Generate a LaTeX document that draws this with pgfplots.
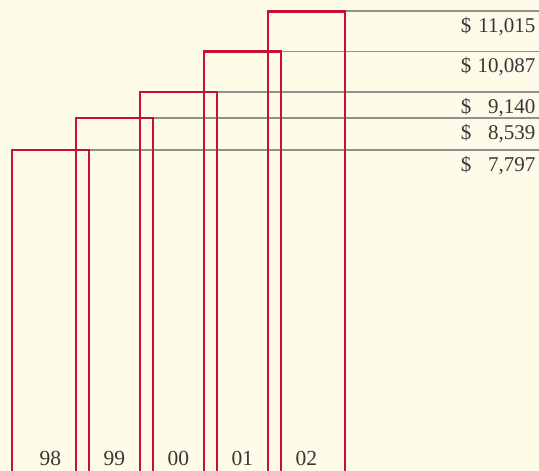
\documentclass[border=0pt]{standalone}
\usepackage{fontspec}
\setmainfont{Liberation Serif}
\usepackage{pgfplots}
\usepackage{pgfplotstable}
\pgfplotsset{compat=1.18}
\definecolor{bg}{RGB}{255,251,233}
\definecolor{barred}{RGB}{202,16,48}
\definecolor{rulegray}{RGB}{145,145,145}
\definecolor{txt}{RGB}{55,55,55}
\pgfplotstableread{
x val
0 7797
1 8539
2 9140
3 10087
4 11015
}\revtable
\begin{document}
\begin{tikzpicture}
\path[use as bounding box] (0,0) rectangle (539pt,471pt);
\clip (0,0) rectangle (539pt,471pt);
\begin{axis}[
  at={(0pt,-15.8pt)}, anchor=south west,
  scale only axis, width=539pt, height=486.8pt,
  xmin=-0.789, xmax=7.633, ymin=0, ymax=11271,
  axis line style={draw=none},
  axis background/.style={fill=bg},
  major tick length=0pt,
  ytick=\empty,
  xtick={0,1,2,3,4},
  xticklabels={98,99,00,01,02},
  xticklabel style={anchor=base, inner sep=0pt, yshift=21.3pt, font=\fontsize{21.5}{24}\selectfont, text=txt},
]
\addplot[rulegray, line width=1.2pt] coordinates {(0.6016,7797) (7.7,7797)};
\addplot[rulegray, line width=1.2pt] coordinates {(1.6016,8539) (7.7,8539)};
\addplot[rulegray, line width=1.2pt] coordinates {(2.6016,9140) (7.7,9140)};
\addplot[rulegray, line width=1.2pt] coordinates {(3.6016,10087) (7.7,10087)};
\addplot[rulegray, line width=1.2pt] coordinates {(4.6016,11015) (7.7,11015)};
\addplot[ybar, bar width=1.203, bar shift=0pt, draw=barred, line width=2.9pt, fill=none] table[x=x, y=val] {\revtable};
\begin{scope}[every node/.style={anchor=base east, xshift=-3.5pt, yshift=-21.3pt, text=txt, font=\fontsize{21}{23}\selectfont, inner sep=0pt}]
\node at (axis cs:7.633,11015) {\makebox[74.5pt]{\$\hfill 11,015}};
\node at (axis cs:7.633,10087) {\makebox[74.5pt]{\$\hfill 10,087}};
\node at (axis cs:7.633,9140) {\makebox[74.5pt]{\$\hfill 9,140}};
\node at (axis cs:7.633,8539) {\makebox[74.5pt]{\$\hfill 8,539}};
\node at (axis cs:7.633,7797) {\makebox[74.5pt]{\$\hfill 7,797}};
\end{scope}
\end{axis}
\end{tikzpicture}
\end{document}
